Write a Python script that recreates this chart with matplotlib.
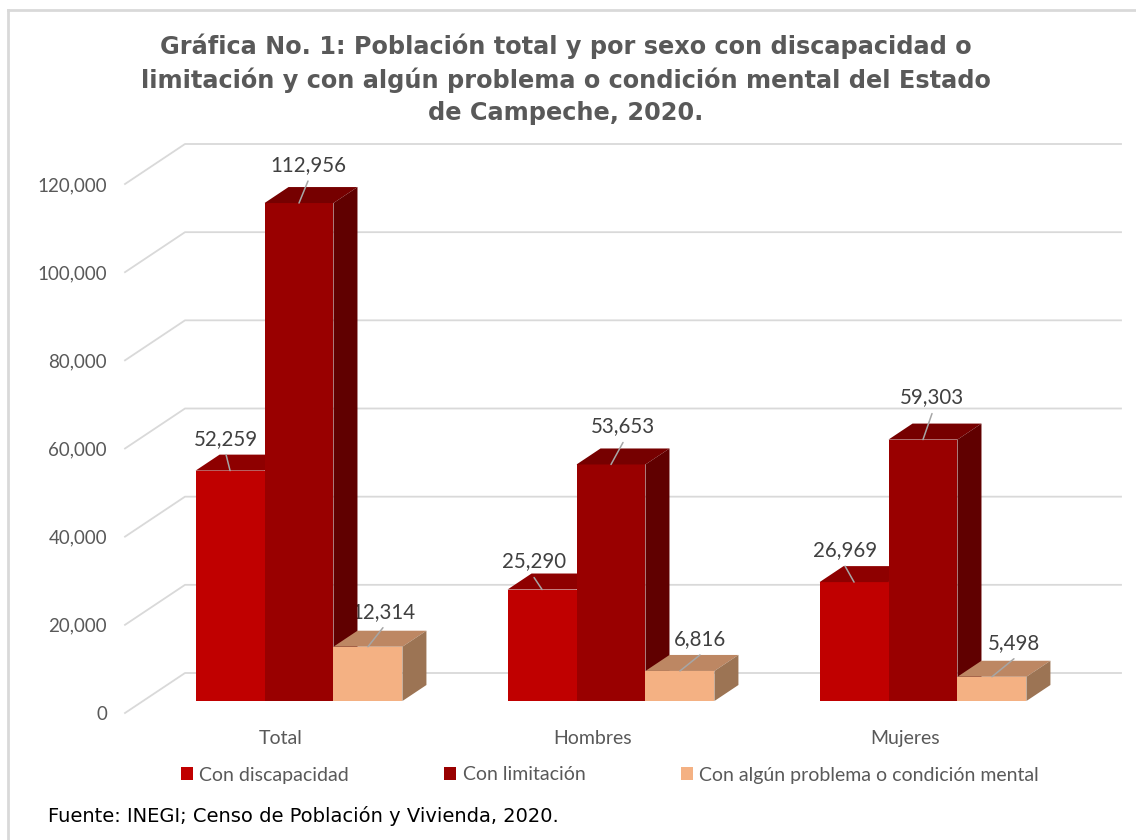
import matplotlib
matplotlib.use("Agg")
import matplotlib.pyplot as plt
from matplotlib.patches import Polygon, Patch
from matplotlib.lines import Line2D

categories = ["Total", "Hombres", "Mujeres"]
series_names = ["Con discapacidad", "Con limitación",
                "Con algún problema o condición mental"]
con_discapacidad = [52259, 25290, 26969]
con_limitacion = [112956, 53653, 59303]
con_problema_mental = [12314, 6816, 5498]
y_ticks = [0, 20000, 40000, 60000, 80000, 100000, 120000]

title = ("Gráfica No. 1: Población total y por sexo con discapacidad o\n"
         "limitación y con algún problema o condición mental del Estado\n"
         "de Campeche, 2020.")
source = "Fuente: INEGI; Censo de Población y Vivienda, 2020."

# colours per series: front, top, side
front_colors = ["#C00000", "#990000", "#F4B183"]
top_colors = ["#8E0000", "#760000", "#BD8763"]
side_colors = ["#7A0000", "#600000", "#9C7454"]
# label offsets (pixels) from the bar top, per series and category
label_offsets = [[(-4, 32), (-8, 28), (-9, 32)],
                 [(9, 38), (12, 38), (9, 42)],
                 [(15, 35), (20, 32), (22, 34)]]

W, H = 1136, 840
fig = plt.figure(figsize=(W / 100, H / 100), dpi=100)
plt.rcParams['font.family'] = ['Lato', 'DejaVu Sans']

# axes = front edge of the floor
ax = fig.add_axes([125 / W, (H - 713) / H, 936 / W, 529 / H])
ax.set_xlim(-0.5, 2.5)
ax.set_ylim(0, 120000)
px_x = 3.0 / 936
px_y = 120000 / 529

wall_dx, wall_dy = 60 * px_x, 40 * px_y
front_dx, front_dy = 0.3 * wall_dx, 0.3 * wall_dy
depth_dx, depth_dy = 0.4 * wall_dx, 0.4 * wall_dy

# back wall gridlines + slanted floor lines
for v in y_ticks:
    ax.plot([-0.5, -0.5 + wall_dx, 2.5 + wall_dx], [v, v + wall_dy, v + wall_dy],
            color="#D9D9D9", lw=1.3, zorder=1, clip_on=False)

bar_w = 0.221
group_w = 3 * bar_w
values = [con_discapacidad, con_limitacion, con_problema_mental]

for j, vals in enumerate(values):
    xs = [i - group_w / 2 + j * bar_w + front_dx for i in range(len(categories))]
    z = 3 + j
    ax.bar(xs, vals, width=bar_w, bottom=front_dy, align='edge',
           color=front_colors[j], zorder=z, clip_on=False)
    for i, (x, v) in enumerate(zip(xs, vals)):
        top = front_dy + v
        ax.add_patch(Polygon([(x, top), (x + bar_w, top),
                              (x + bar_w + depth_dx, top + depth_dy),
                              (x + depth_dx, top + depth_dy)],
                             closed=True, facecolor=top_colors[j], lw=0,
                             zorder=z, clip_on=False))
        if j > 0:
            ax.add_patch(Polygon([(x + bar_w, front_dy), (x + bar_w, top),
                                  (x + bar_w + depth_dx, top + depth_dy),
                                  (x + bar_w + depth_dx, front_dy + depth_dy)],
                                 closed=True, facecolor=side_colors[j], lw=0,
                                 zorder=z, clip_on=False))
        ox, oy = label_offsets[j][i]
        cx = x + bar_w / 2
        ax.annotate(f"{v:,}", xy=(cx, top), xytext=(ox * 0.72, oy * 0.72),
                    textcoords='offset points', ha='center', va='center',
                    fontsize=14.8, color="#404040", zorder=2.5)
        # leader line
        ax.annotate("", xy=(cx, top), xytext=(ox * 0.72, (oy - 16) * 0.72),
                    textcoords='offset points', zorder=10,
                    arrowprops=dict(arrowstyle='-', color="#A6A6A6", lw=1.1,
                                    shrinkA=0, shrinkB=0))

for s in ax.spines.values():
    s.set_visible(False)
ax.set_yticks(y_ticks)
ax.set_yticklabels([f"{v:,}" for v in y_ticks])
ax.set_xticks(range(len(categories)))
ax.set_xticklabels(categories)
ax.tick_params(axis='y', length=0, pad=13, labelsize=13.5, labelcolor="#595959")
ax.tick_params(axis='x', length=0, pad=12, labelsize=14, labelcolor="#595959")

handles = [Patch(facecolor=c, edgecolor='none') for c in front_colors]
fig.legend(handles, series_names, loc='center', bbox_to_anchor=(610 / W, 1 - 775 / H),
           ncol=3, frameon=False, fontsize=14, labelcolor="#595959",
           handlelength=0.6, handleheight=0.6, handletextpad=0.35,
           columnspacing=4.9)

fig.text(566 / W, 1 - 79 / H, title, ha='center', va='center', fontsize=17.3,
         fontweight='bold', color="#595959", linespacing=1.42,
         family=['DejaVu Sans'])
fig.text(48 / W, 1 - 816 / H, source, ha='left', va='center', fontsize=14,
         color="black", family=['DejaVu Sans'])

# chart frame
fig.add_artist(Line2D([8 / W, 8 / W], [0, 1 - 10 / H], color="#D9D9D9", lw=2))
fig.add_artist(Line2D([8 / W, 1], [1 - 10 / H, 1 - 10 / H], color="#D9D9D9", lw=2))

fig.savefig("out.png", dpi=100, facecolor="white")
